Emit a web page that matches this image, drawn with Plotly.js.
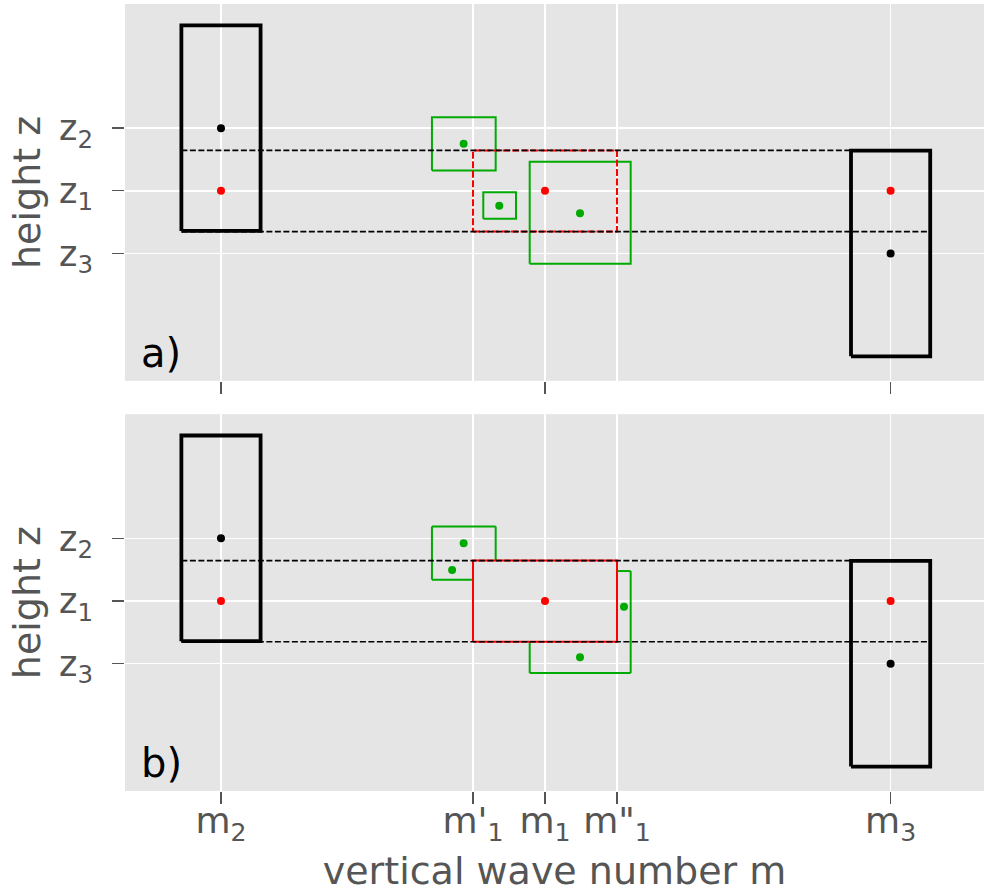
<!DOCTYPE html>
<html>
<head>
<meta charset="utf-8">
<script src="https://cdn.plot.ly/plotly-3.0.1.min.js"></script>
<style>html,body{margin:0;padding:0;background:#fff;}#chart{width:984px;height:893px;}</style>
</head>
<body>
<div id="chart"></div>
<script>
// ---- tick positions / labels ----
const xTickVals = [-4.5, -1, 0, 1, 4.8];
const xTickText = ['m<sub>2</sub>', "m'<sub>1</sub>", 'm<sub>1</sub>', 'm"<sub>1</sub>', 'm<sub>3</sub>'];
const xMajorTop = [-4.5, 0, 4.8];
const xMinorTop = [-1, 1];
const zTickVals = [1, 0, -1];
const zTickText = ['z<sub>2</sub>', 'z<sub>1</sub>', 'z<sub>3</sub>'];

// ---- black boxes (same in both panels) ----
const blackBoxX0 = [-5.05, 4.25];
const blackBoxX1 = [-3.95, 5.35];
const blackBoxY0 = [-0.64, -2.64];
const blackBoxY1 = [2.64, 0.64];
const blackDotX = [-4.5, 4.8];
const blackDotZ = [1, -1];
const redDotX = [-4.5, 0, 4.8];
const redDotZ = [0, 0, 0];

// ---- dashed reference lines ----
const dashLineZ = [0.645, -0.65];
const dashLineX = [-5.05, 5.35];

// ---- red box (around m1, z1) ----
const redBoxX = [-1, 1];
const redBoxY = [-0.65, 0.645];

// ---- green boxes / dots, panel a ----
const greenAX0 = [-1.57, -0.857, -0.2125];
const greenAX1 = [-0.685, -0.403, 1.19];
const greenAY0 = [0.324, -0.447, -1.164];
const greenAY1 = [1.175, -0.021, 0.4625];
const greenADotX = [-1.13, -0.635, 0.486];
const greenADotZ = [0.75, -0.239, -0.356];

// ---- green boxes / dots, panel b ----
const greenBX0 = [-1.57, -0.2125];
const greenBX1 = [-0.685, 1.19];
const greenBY0 = [0.34, -1.148];
const greenBY1 = [1.19, 0.478];
const greenBDotX = [-1.13, -1.29, 1.097, 0.486];
const greenBDotZ = [0.92, 0.494, -0.091, -0.898];

const GREEN = '#00aa00';
const RED = '#ff0000';

function rects(x0s, x1s, y0s, y1s) {
  const x = [], y = [];
  for (let i = 0; i < x0s.length; i++) {
    x.push(x0s[i], x1s[i], x1s[i], x0s[i], x0s[i], null);
    y.push(y0s[i], y0s[i], y1s[i], y1s[i], y0s[i], null);
  }
  return {x, y};
}
function subtract(a, b, c0, c1) {
  const out = [];
  if (c0 > a) out.push([a, Math.min(b, c0)]);
  if (c1 < b) out.push([Math.max(a, c1), b]);
  return out.filter(s => s[1] > s[0]);
}
// outline of boxes with parts hidden behind the (opaque) red box removed
function clippedRects(x0s, x1s, y0s, y1s, rx, ry) {
  const x = [], y = [];
  for (let i = 0; i < x0s.length; i++) {
    [y0s[i], y1s[i]].forEach(yy => {
      const segs = (yy > ry[0] && yy < ry[1]) ? subtract(x0s[i], x1s[i], rx[0], rx[1]) : [[x0s[i], x1s[i]]];
      segs.forEach(s => { x.push(s[0], s[1], null); y.push(yy, yy, null); });
    });
    [x0s[i], x1s[i]].forEach(xx => {
      const segs = (xx > rx[0] && xx < rx[1]) ? subtract(y0s[i], y1s[i], ry[0], ry[1]) : [[y0s[i], y1s[i]]];
      segs.forEach(s => { x.push(xx, xx, null); y.push(s[0], s[1], null); });
    });
  }
  return {x, y};
}
function hLines(xs, zs) {
  const x = [], y = [];
  zs.forEach(z => { x.push(xs[0], xs[1], null); y.push(z, z, null); });
  return {x, y};
}

const traces = [];
['a', 'b'].forEach(p => {
  const xa = p === 'a' ? 'x' : 'x2';
  const ya = p === 'a' ? 'y' : 'y2';
  const base = {xaxis: xa, yaxis: ya, showlegend: false, hoverinfo: 'skip'};
  const g = p === 'a' ? rects(greenAX0, greenAX1, greenAY0, greenAY1)
                      : clippedRects(greenBX0, greenBX1, greenBY0, greenBY1, redBoxX, redBoxY);
  traces.push(Object.assign({}, base, {type: 'scatter', mode: 'lines', x: g.x, y: g.y,
    line: {color: GREEN, width: 2}, connectgaps: false}));
  const r = rects([redBoxX[0]], [redBoxX[1]], [redBoxY[0]], [redBoxY[1]]);
  traces.push(Object.assign({}, base, {type: 'scatter', mode: 'lines', x: r.x, y: r.y,
    line: {color: RED, width: 2, dash: p === 'a' ? '7px,2.5px' : 'solid'}}));
  const d = hLines(dashLineX, dashLineZ);
  traces.push(Object.assign({}, base, {type: 'scatter', mode: 'lines', x: d.x, y: d.y,
    line: {color: '#000', width: 1.7, dash: '6px,2.5px'}}));
  const b = rects(blackBoxX0, blackBoxX1, blackBoxY0, blackBoxY1);
  traces.push(Object.assign({}, base, {type: 'scatter', mode: 'lines', x: b.x, y: b.y,
    line: {color: '#000', width: 3.8}}));
  traces.push(Object.assign({}, base, {type: 'scatter', mode: 'markers', x: blackDotX, y: blackDotZ,
    marker: {color: '#000', size: 8}}));
  traces.push(Object.assign({}, base, {type: 'scatter', mode: 'markers', x: redDotX, y: redDotZ,
    marker: {color: RED, size: 8}}));
  traces.push(Object.assign({}, base, {type: 'scatter', mode: 'markers',
    x: p === 'a' ? greenADotX : greenBDotX, y: p === 'a' ? greenADotZ : greenBDotZ,
    marker: {color: GREEN, size: 8}}));
});
// empty trace that registers the label-only overlay axis
traces.push({type: 'scatter', mode: 'markers', x: [], y: [], xaxis: 'x3', yaxis: 'y2', showlegend: false, hoverinfo: 'skip'});

const FONT = 'DejaVu Sans';
const TICKC = '#555555';
const XRANGE = [-5.833, 6.097];
const xCommon = {
  range: XRANGE, showgrid: true, gridcolor: '#ffffff', gridwidth: 1.5,
  zeroline: false, showline: false, ticks: 'outside', ticklen: 12, tickwidth: 1.3, tickcolor: TICKC,
  tickmode: 'array', fixedrange: true
};
const yCommon = {
  range: [-3.03, 2.98], showgrid: true, gridcolor: '#ffffff', gridwidth: 1.5,
  zeroline: false, showline: false, ticks: 'outside', ticklen: 12, tickwidth: 1.3, tickcolor: TICKC,
  tickmode: 'array', tickvals: zTickVals, ticktext: zTickText,
  tickfont: {family: FONT, size: 35, color: TICKC}, ticklabelstandoff: 12,
  title: {text: 'height z', font: {family: FONT, size: 38, color: TICKC}, standoff: 6}
};

const layout = {
  width: 984, height: 893,
  margin: {l: 125, r: 0, t: 4, b: 102},
  paper_bgcolor: '#ffffff', plot_bgcolor: '#E5E5E5',
  font: {family: FONT, color: TICKC},
  xaxis: Object.assign({}, xCommon, {anchor: 'y', domain: [0, 1], tickvals: xMajorTop,
    showticklabels: false,
    minor: {tickmode: 'array', tickvals: xMinorTop, showgrid: true, gridcolor: '#ffffff', gridwidth: 1.5, ticks: ''}}),
  xaxis2: Object.assign({}, xCommon, {anchor: 'y2', domain: [0, 1], tickvals: xTickVals,
    showticklabels: false}),
  xaxis3: {overlaying: 'x2', anchor: 'y2', range: XRANGE, fixedrange: true,
    showgrid: false, zeroline: false, showline: false, ticks: '',
    tickmode: 'array', tickvals: xTickVals, ticktext: xTickText,
    tickfont: {family: FONT, size: 36, color: TICKC}, ticklabelstandoff: 5,
    title: {text: 'vertical wave number m', font: {family: FONT, size: 38, color: TICKC}, standoff: 18}},
  yaxis: Object.assign({}, yCommon, {anchor: 'x', domain: [0.5212, 1]}),
  yaxis2: Object.assign({}, yCommon, {anchor: 'x2', domain: [0, 0.4788]}),
  annotations: [
    {text: 'a)', xref: 'x domain', yref: 'y domain', x: 0.016, y: 0.075, xanchor: 'left', yanchor: 'middle',
      showarrow: false, font: {family: FONT, size: 40, color: '#000'}},
    {text: 'b)', xref: 'x2 domain', yref: 'y2 domain', x: 0.016, y: 0.075, xanchor: 'left', yanchor: 'middle',
      showarrow: false, font: {family: FONT, size: 40, color: '#000'}}
  ]
};

Plotly.newPlot('chart', traces, layout, {staticPlot: true, displayModeBar: false});
</script>
</body>
</html>
